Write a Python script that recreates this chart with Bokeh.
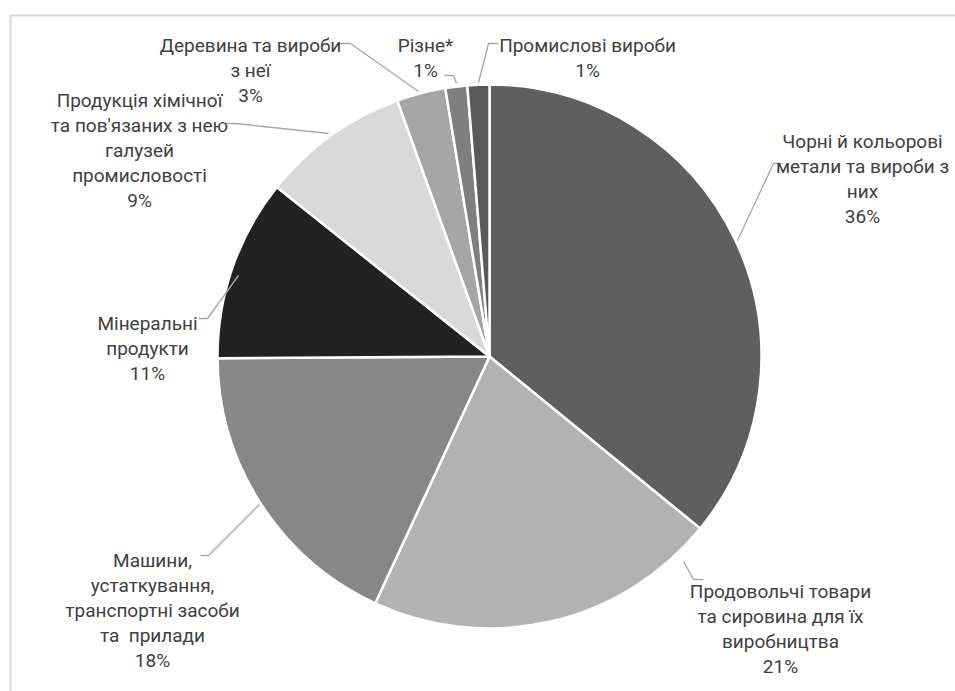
import math
from bokeh.plotting import figure
from bokeh.models import Range1d
from bokeh.core.properties import value
from bokeh.embed import file_html
from bokeh.resources import INLINE

# ---- data ----
categories = [
    "Чорні й кольорові\nметали та вироби з\nних",
    "Продовольчі товари\nта сировина для їх\nвиробництва",
    "Машини,\nустаткування,\nтранспортні засоби\nта\u00a0 прилади",
    "Мінеральні\nпродукти",
    "Продукція хімічної\nта пов'язаних з нею\nгалузей\nпромисловості",
    "Деревина та вироби\nз неї",
    "Різне*",
    "Промислові вироби",
]
shares = [35.9, 21.0, 18.0, 10.8, 8.8, 2.9, 1.3, 1.3]

# ---- style / layout ----
colors = ["#5f5f5f", "#b2b2b2", "#878787", "#222222", "#d9d9d9", "#a5a5a5", "#7f7f7f", "#595959"]
W, H = 955, 691
CX, CY, R = 489, 356, 272
FONT = "Roboto"
FS = "19px"
LINE_STEP = 25
TEXT_COLOR = "#404040"
LEADER_COLOR = "#a6a6a6"

# label anchors: (center x, first baseline y) in screen pixels
label_pos = [
    (862, 141),
    (780, 591),
    (152, 560),
    (147, 323),
    (139, 100),
    (250, 45),
    (425, 45),
    (587, 45),
]
# leader polylines in screen pixels
leaders = [
    [(782, 163), (773, 163), (737, 240)],
    [(703, 579), (693, 579), (683, 561)],
    [(200, 555), (208, 555), (259, 504)],
    [(198, 318), (207, 318), (238, 275)],
    [(225, 123), (235, 123), (328, 133)],
    [(338, 43), (350, 43), (418, 91)],
    [(444, 75), (453, 75), (456, 83)],
    [(498, 43), (488, 43), (478, 82)],
]


def sy(v):
    return H - v


p = figure(width=W, height=H, output_backend="svg", toolbar_location=None,
           x_range=Range1d(0, W), y_range=Range1d(0, H), min_border=0)
p.axis.visible = False
p.grid.visible = False
p.outline_line_color = None
p.background_fill_color = "white"
p.border_fill_color = "white"

# chart area border (top + left visible, rest outside window)
p.line([10, 10, W + 20], [sy(H + 20), sy(15), sy(15)], line_color="#d9d9d9", line_width=2)

total = sum(shares)
cum = 0.0
starts, ends = [], []
for s in shares:
    a0 = math.pi / 2 - 2 * math.pi * cum / total
    cum += s
    a1 = math.pi / 2 - 2 * math.pi * cum / total
    starts.append(a0)
    ends.append(a1)

p.wedge(x=[CX] * len(shares), y=[sy(CY)] * len(shares), radius=R,
        start_angle=starts, end_angle=ends, direction="clock",
        fill_color=colors, line_color="white", line_width=2.5)

for pts in leaders:
    p.line([q[0] for q in pts], [sy(q[1]) for q in pts], line_color=LEADER_COLOR, line_width=1.3)

for cat, s, (lx, ly) in zip(categories, shares, label_pos):
    lines = cat.split("\n") + [f"{round(s / total * 100)}%"]
    xs = [lx] * len(lines)
    ys = [sy(ly + i * LINE_STEP) for i in range(len(lines))]
    p.text(x=xs, y=ys, text=lines, text_align="center", text_baseline="alphabetic",
           text_font=value(FONT), text_font_size=FS, text_color=TEXT_COLOR)

open("out.html", "w").write(file_html(p, INLINE))
